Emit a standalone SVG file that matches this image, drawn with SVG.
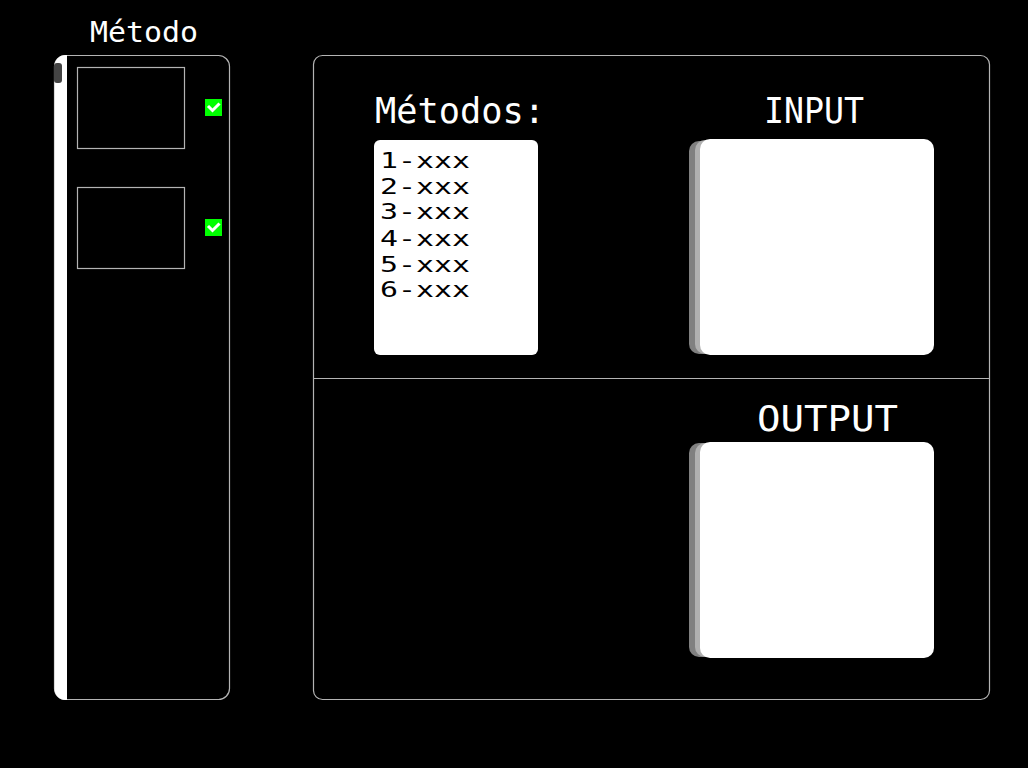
<svg xmlns="http://www.w3.org/2000/svg" width="1028" height="768" viewBox="0 0 1028 768">
<style>
.panel{fill:#000;stroke:#b4b4b4;stroke-width:1.2}
.thumb{fill:#000;stroke:#b4b4b4;stroke-width:1.2}
.t{font-family:"DejaVu Sans Mono","Liberation Mono",monospace;fill:#fff}
.item{font-family:"DejaVu Sans Mono","Liberation Mono",monospace;fill:#000;font-size:21px}
.box{fill:#fff}
.sh1{fill:#808080}
.sh2{fill:#b0b0b0}
.chk{fill:#00ff00}
</style>
<rect width="1028" height="768" fill="#000"/>
<g id="left-panel">
<text class="t" x="144" y="42" font-size="28" text-anchor="middle" textLength="108" lengthAdjust="spacingAndGlyphs">Método</text>
<rect class="panel" x="54.5" y="55.5" width="175" height="644" rx="11"/>
<path d="M54.5 66 a11 11 0 0 1 11 -11 H67 V700 H65.5 a11 11 0 0 1 -11 -11 Z" fill="#fff"/>
<rect x="54" y="63" width="8" height="20" rx="3" fill="#444"/>
<rect class="thumb" x="77.5" y="67.5" width="107" height="81"/>
<rect class="thumb" x="77.5" y="187.5" width="107" height="81"/>
<g id="check1"><rect class="chk" x="205" y="99" width="17" height="17"/><path d="M208 106 l4.5 4.5 l7 -7" fill="none" stroke="#fff" stroke-width="3"/></g>
<g id="check2"><rect class="chk" x="205" y="219" width="17" height="17"/><path d="M208 226 l4.5 4.5 l7 -7" fill="none" stroke="#fff" stroke-width="3"/></g>
</g>
<g id="main-panel">
<rect class="panel" x="313.5" y="55.5" width="676" height="644" rx="9"/>
<line x1="313.5" y1="378.5" x2="989.5" y2="378.5" stroke="#b4b4b4" stroke-width="1.2"/>
</g>
<g id="methods">
<text class="t" x="375" y="123" font-size="36" textLength="170" lengthAdjust="spacingAndGlyphs">Métodos:</text>
<rect class="box" x="374" y="140" width="164" height="215" rx="6"/>
<text class="item" x="380" y="168" textLength="90" lengthAdjust="spacingAndGlyphs">1-xxx</text>
<text class="item" x="380" y="194" textLength="90" lengthAdjust="spacingAndGlyphs">2-xxx</text>
<text class="item" x="380" y="219" textLength="90" lengthAdjust="spacingAndGlyphs">3-xxx</text>
<text class="item" x="380" y="246" textLength="90" lengthAdjust="spacingAndGlyphs">4-xxx</text>
<text class="item" x="380" y="272" textLength="90" lengthAdjust="spacingAndGlyphs">5-xxx</text>
<text class="item" x="380" y="297" textLength="90" lengthAdjust="spacingAndGlyphs">6-xxx</text>
</g>
<g id="input">
<text class="t" x="764" y="123" font-size="36" textLength="100" lengthAdjust="spacingAndGlyphs">INPUT</text>
<rect class="sh1" x="689" y="141" width="230" height="213" rx="10"/>
<rect class="sh2" x="695" y="140" width="230" height="214" rx="10"/>
<rect class="box" x="700" y="139" width="234" height="216" rx="10"/>
</g>
<g id="output">
<text class="t" x="757" y="431" font-size="36" textLength="141" lengthAdjust="spacingAndGlyphs">OUTPUT</text>
<rect class="sh1" x="689" y="443" width="230" height="214" rx="10"/>
<rect class="sh2" x="695" y="443" width="230" height="214" rx="10"/>
<rect class="box" x="700" y="442" width="234" height="216" rx="10"/>
</g>
<g id="connectors"></g>
</svg>
